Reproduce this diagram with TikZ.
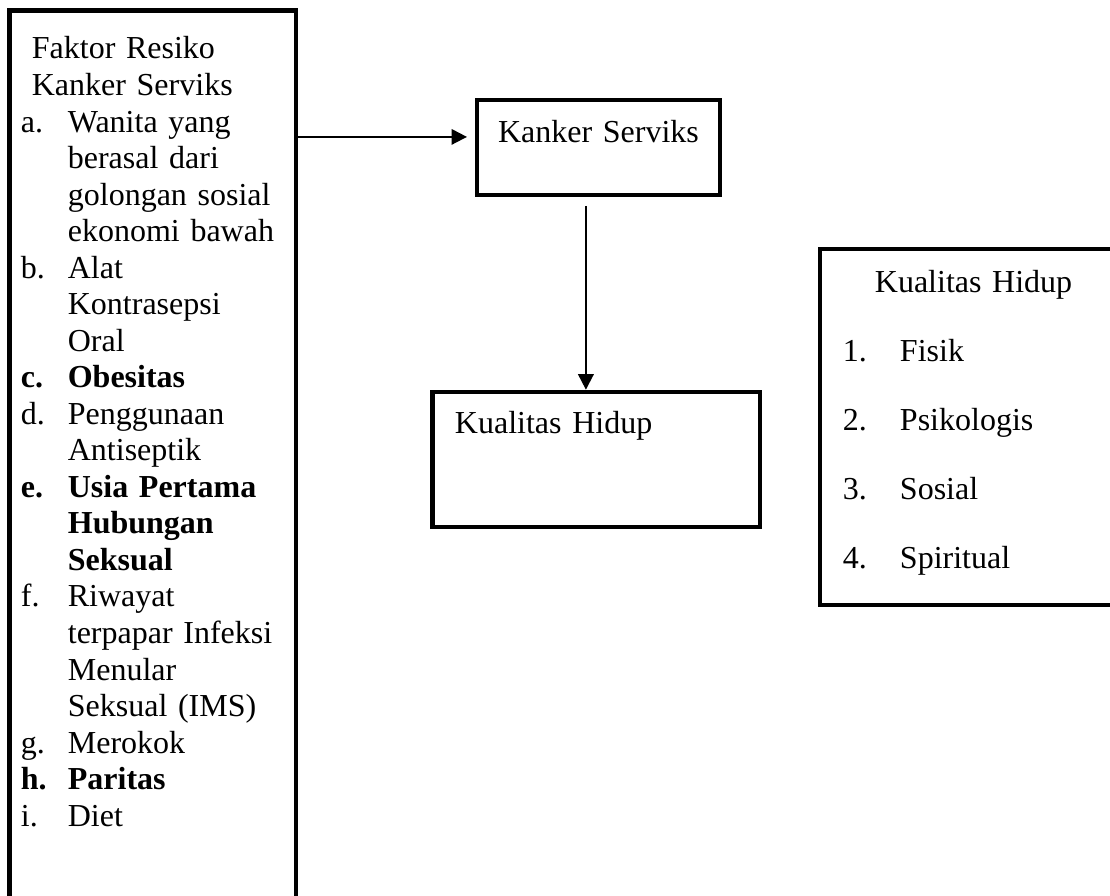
\documentclass[tikz,border=0pt]{standalone}
\usepackage{fontspec}
\setmainfont{Liberation Serif}
\usetikzlibrary{arrows.meta}

\newcommand{\fitem}[1]{\makebox[17.6pt][l]{#1}}
\newcommand{\kitem}[1]{\makebox[21.4pt][l]{#1}}

\begin{document}
\begin{tikzpicture}[x=0.375pt,y=-0.375pt,>={Triangle[length=5.8pt,width=5.8pt]},
  box/.style={draw,line width=1.7pt,inner sep=0pt,anchor=north west,align=left,
    font=\fontsize{12}{13.7}\selectfont},
  arrow line/.style={->,line width=0.75pt}]
  \useasboundingbox (0,0) rectangle (1110,896);
  \clip (0,0) rectangle (1110,896);

  \node[box,text width=98.8pt,inner xsep=4.3pt,text height=18.2pt,text depth=330pt] (faktor) at (7.2,8.2)
    {\hspace*{4.1pt}Faktor Resiko\\
     \hspace*{4.1pt}Kanker Serviks\\
     \fitem{a.}Wanita yang\\
     \fitem{}berasal dari\\
     \fitem{}golongan sosial\\
     \fitem{}ekonomi bawah\\
     \fitem{b.}Alat\\
     \fitem{}Kontrasepsi\\
     \fitem{}Oral\\
     \textbf{\fitem{c.}Obesitas}\\
     \fitem{d.}Penggunaan\\
     \fitem{}Antiseptik\\
     \textbf{\fitem{e.}Usia Pertama}\\
     \textbf{\fitem{}Hubungan}\\
     \textbf{\fitem{}Seksual}\\
     \fitem{f.}Riwayat\\
     \fitem{}terpapar Infeksi\\
     \fitem{}Menular\\
     \fitem{}Seksual (IMS)\\
     \fitem{g.}Merokok\\
     \textbf{\fitem{h.}Paritas}\\
     \fitem{i.}Diet};

  \node[box,text width=91.1pt,align=center,text height=16.1pt,text depth=19.5pt] (kanker) at (474.7,97.7) {Kanker Serviks};
  \node[box,text width=105.9pt,inner xsep=8.44pt,text height=15.4pt,text depth=35.25pt] (kh) at (430.2,389.7) {Kualitas Hidup};

  \node[box,text width=102.8pt,inner xsep=8.6pt,text height=16.5pt,text depth=117pt,
    font=\fontsize{12}{25.875}\selectfont] (dimensi) at (817.7,246.7)
    {\hspace*{12pt}Kualitas Hidup\\
     \kitem{1.}Fisik\\
     \kitem{2.}Psikologis\\
     \kitem{3.}Sosial\\
     \kitem{4.}Spiritual};

  \coordinate (kin) at ([yshift=3.94pt]kanker.west);
  \coordinate (kout) at ([xshift=-4.7pt]kanker.south);
  \draw[arrow line,shorten >=2.9pt] (faktor.east |- kin) -- (kin);
  \draw[arrow line,shorten <=3.3pt] (kout) -- (kout |- kh.north);
\end{tikzpicture}
\end{document}
